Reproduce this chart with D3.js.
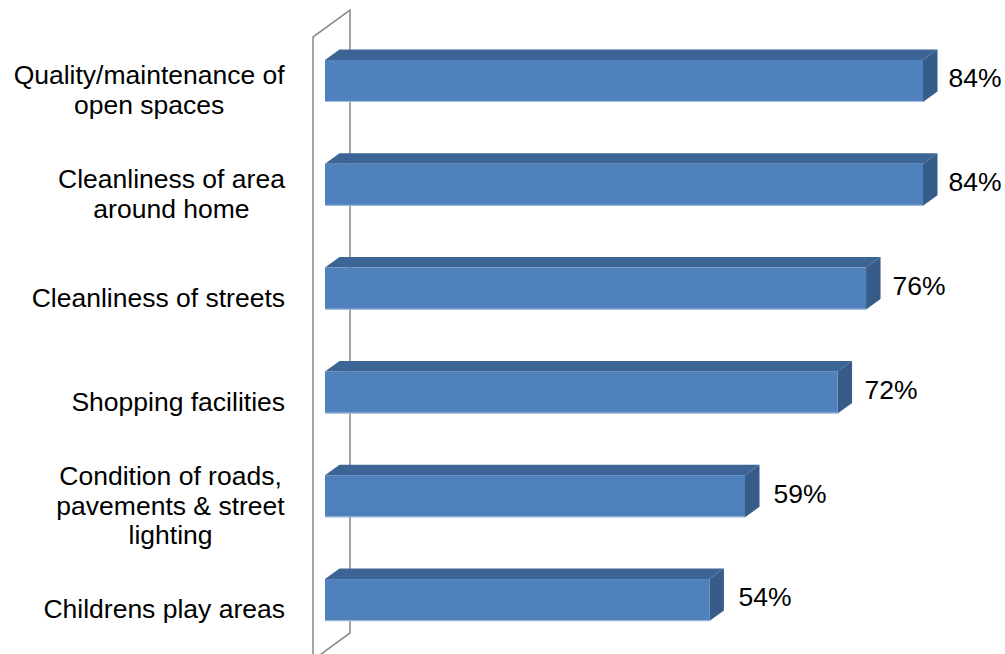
<!DOCTYPE html>
<html>
<head>
<meta charset="utf-8">
<script src="https://cdn.jsdelivr.net/npm/d3@7"></script>
<style>
  html, body { margin: 0; padding: 0; background: #ffffff; }
  svg { display: block; }
</style>
</head>
<body>
<svg id="chart" width="1005" height="654"></svg>
<script>
// Satisfaction with local services (share satisfied)
const categories = [
  ["Quality/maintenance of", "open spaces"],
  ["Cleanliness of area", "around home"],
  ["Cleanliness of streets"],
  ["Shopping facilities"],
  ["Condition of roads,", "pavements & street", "lighting"],
  ["Childrens play areas"]
];
const values = [0.84, 0.84, 0.76, 0.72, 0.59, 0.54];
const valueLabels = ["84%", "84%", "76%", "72%", "59%", "54%"];

const svg = d3.select("#chart");
const W = 1005, H = 654;

const keys = categories.map((c, i) => i);
const y = d3.scaleBand().domain(keys).range([29, 652]).paddingInner(0.595).paddingOuter(0.2975);
const x = d3.scaleLinear().domain([0, 1]).range([325, 1036.9]);

// 3D depth offsets
const bdx = 14.5, bdy = -10.5;   // bar depth
const wdx = 37, wdy = -27;       // wall depth

const frontColor = "#4f81bd", topColor = "#3c6495", sideColor = "#375c8a";

// Side wall (vertical plane at the value axis)
const wx = 313;
const wall = svg.append("g").attr("fill", "none").attr("stroke", "#8e8e8e").attr("stroke-width", 1.6);
wall.append("path").attr("d",
  `M${wx},${H + 6} L${wx},${37} L${wx + wdx},${37 + wdy} L${wx + wdx},${633} L${wx},${633 - wdy}`);

// Bars
const bars = svg.append("g").selectAll("g").data(keys).join("g");
bars.each(function(i) {
  const g = d3.select(this);
  const x0 = x(0), x1 = x(values[i]);
  const y0 = y(i), h = y.bandwidth();
  // top face
  g.append("path").attr("fill", topColor)
    .attr("d", `M${x0},${y0} L${x0 + bdx},${y0 + bdy} L${x1 + bdx},${y0 + bdy} L${x1},${y0} Z`);
  // end face
  g.append("path").attr("fill", sideColor)
    .attr("d", `M${x1},${y0} L${x1 + bdx},${y0 + bdy} L${x1 + bdx},${y0 + h + bdy} L${x1},${y0 + h} Z`);
  // front face
  g.append("rect").attr("fill", frontColor)
    .attr("x", x0).attr("y", y0).attr("width", x1 - x0).attr("height", h);
  // light bottom edge
  g.append("line").attr("stroke", "#a9c0de").attr("stroke-width", 1)
    .attr("x1", x0).attr("x2", x1).attr("y1", y0 + h - 0.5).attr("y2", y0 + h - 0.5);
});

// Value labels
svg.append("g").selectAll("text").data(keys).join("text")
  .attr("x", i => x(values[i]) + bdx + 9 + (1 - values[i]) * 12)
  .attr("y", i => y(i) + y.bandwidth() / 2 - 3)
  .attr("dy", "0.35em")
  .attr("font-family", "Liberation Sans, Arial, sans-serif")
  .attr("font-size", 26.5)
  .attr("fill", "#000")
  .text(i => valueLabels[i]);

// Category labels, centred lines
const lineH = 29.5;
const labels = svg.append("g")
  .attr("font-family", "Liberation Sans, Arial, sans-serif")
  .attr("font-size", 26.5)
  .attr("fill", "#000");
keys.forEach(i => {
  const lines = categories[i];
  const cy = y(i) + y.bandwidth() / 2 + 9;
  const t = labels.append("text").attr("text-anchor", "middle");
  lines.forEach((ln, k) => {
    t.append("tspan")
      .attr("x", 0)
      .attr("y", cy + (k - (lines.length - 1) / 2) * lineH)
      .attr("dy", "0.35em")
      .text(ln);
  });
  // right-align the block of centred lines at x = 285
  const bb = t.node().getBBox();
  t.attr("transform", `translate(${285 - bb.width / 2},0)`);
});
</script>
</body>
</html>
